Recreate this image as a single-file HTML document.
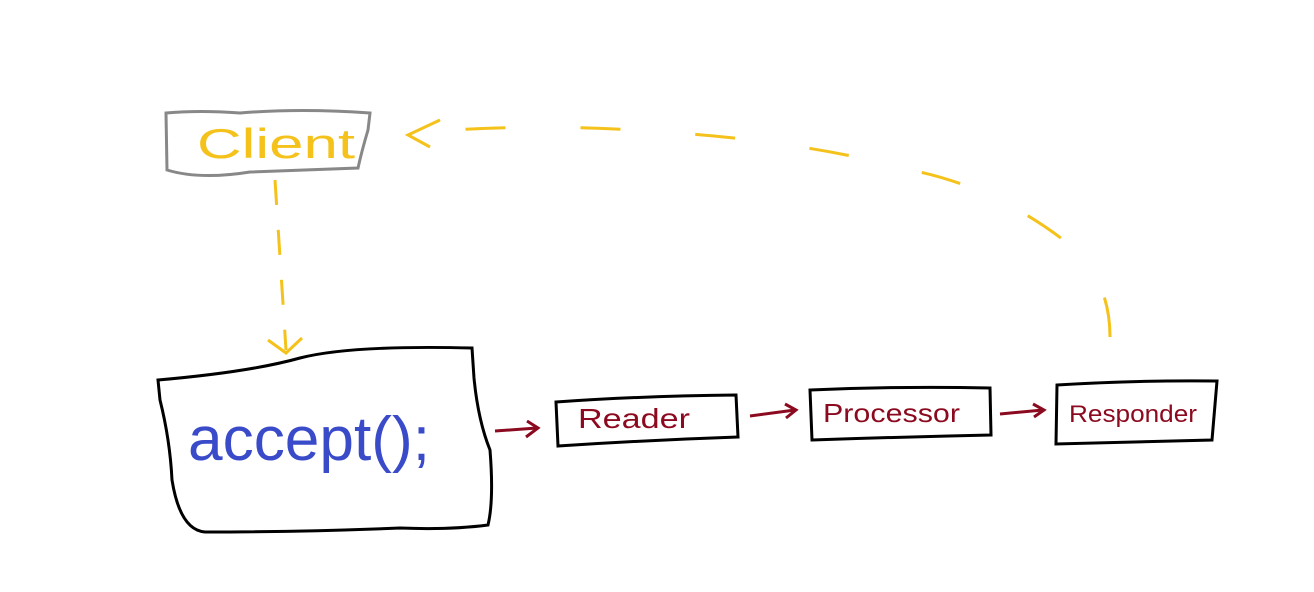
<!DOCTYPE html>
<html><head><meta charset="utf-8"><style>
html,body{margin:0;padding:0;background:#fff;width:1314px;height:592px;overflow:hidden}
svg text{font-family:"Liberation Sans",sans-serif}
</style></head><body>
<svg width="1314" height="592" viewBox="0 0 1314 592" xmlns="http://www.w3.org/2000/svg">
<rect width="1314" height="592" fill="#fff"/>
<!-- Client box -->
<path d="M166,113 Q200,110 240,113 Q300,108 370,113 L368,130 Q362,150 358,168 Q300,170 250,172 Q200,180 167,170 Z" fill="none" stroke="#888" stroke-width="3"/>
<text x="197" y="158" font-size="42" fill="#f4c21b" textLength="158" lengthAdjust="spacingAndGlyphs">Client</text>
<!-- vertical dashed arrow -->
<path d="M275,180 L286,350" fill="none" stroke="#f4c21b" stroke-width="3" stroke-dasharray="25,25"/>
<path d="M268,340 L286,353 L302,338" fill="none" stroke="#f4c21b" stroke-width="3"/>
<!-- curve dashed arrow -->
<path d="M1110,337 Q1110,280 1070,245 Q1000,190 920,172 Q800,140 660,132 Q540,122 412,133" fill="none" stroke="#f4c21b" stroke-width="3" stroke-dasharray="40,75"/>
<path d="M440,120 L408,135 L430,147" fill="none" stroke="#f4c21b" stroke-width="3"/>
<!-- big box -->
<path d="M158,380 Q250,372 300,358 Q350,345 472,348 L474,378 Q478,420 490,450 Q494,500 488,525 Q450,530 400,528 Q300,532 205,532 Q180,530 172,480 Q170,440 160,400 Z" fill="none" stroke="#000" stroke-width="3"/>
<text x="188" y="460" font-size="62" fill="#3a4bc9" textLength="242" lengthAdjust="spacingAndGlyphs">accept();</text>
<!-- small boxes -->
<path d="M556,402 Q640,396 736,395 L738,437 Q650,440 558,446 Z" fill="none" stroke="#000" stroke-width="3"/>
<text x="578" y="428" font-size="28" fill="#8b0a1f" textLength="112" lengthAdjust="spacingAndGlyphs">Reader</text>
<path d="M810,390 Q900,386 990,388 L991,435 Q900,437 812,440 Z" fill="none" stroke="#000" stroke-width="3"/>
<text x="823" y="422" font-size="26" fill="#8b0a1f" textLength="137" lengthAdjust="spacingAndGlyphs">Processor</text>
<path d="M1057,385 Q1140,380 1217,381 L1212,440 Q1140,442 1056,444 Z" fill="none" stroke="#000" stroke-width="3"/>
<text x="1069" y="422" font-size="24" fill="#8b0a1f" textLength="128" lengthAdjust="spacingAndGlyphs">Responder</text>
<!-- red arrows -->
<g fill="none" stroke="#8b0a1f" stroke-width="3">
<path d="M495,431 L537,428"/><path d="M527,421 L538,428 L526,437"/>
<path d="M750,416 L795,410"/><path d="M785,404 L796,410 L786,418"/>
<path d="M1000,414 L1043,410"/><path d="M1033,404 L1044,410 L1034,417"/>
</g>
</svg>
</body></html>
